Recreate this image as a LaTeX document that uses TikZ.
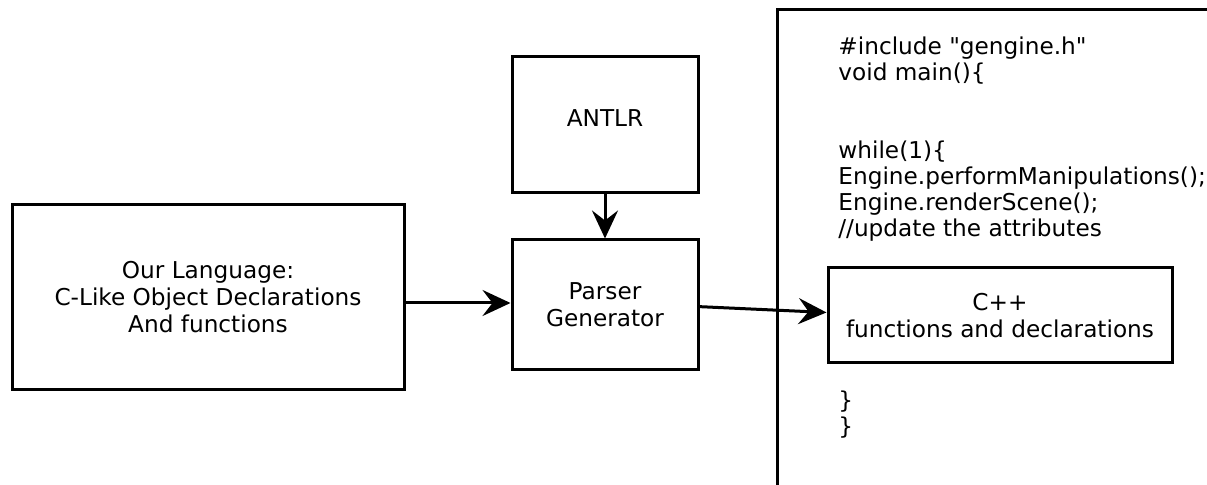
\documentclass[tikz,border=0pt]{standalone}
\usepackage{fontspec}
\setmainfont{DejaVu Sans}[Ligatures=TeXOff]
\usetikzlibrary{arrows.meta}

\begin{document}
\begin{tikzpicture}[x=0.5pt,y=-0.5pt,
    box/.style={draw,line width=1.5pt,align=center,inner sep=0pt,
      font=\fontsize{11.6pt}{13.5pt}\selectfont},
    code/.style={align=left,inner sep=0pt,anchor=north west,
      font=\fontsize{11.6pt}{13pt}\selectfont},
    arr/.style={line width=1.5pt,-{Stealth[length=14pt,width=13pt,inset=5pt]}}]
      \useasboundingbox (0,0) rectangle (1207,485);

      % the generated program, cut off by the page edge
      \begin{scope}
        \clip (0,0) rectangle (1207,485);
        \draw[line width=1.5pt] (777,10) rectangle (1240,520);
      \end{scope}

      \node[box,minimum width=196pt,minimum height=92.5pt] (lang) at (208,297.5)
        {Our Language:\\C-Like Object Declarations\\And functions};
      \node[box,minimum width=93pt,minimum height=68pt,text depth=7pt] (antlr) at (605,125) {ANTLR};
      \node[box,minimum width=93pt,minimum height=65pt] (parser) at (605,305)
        {Parser\\Generator};
      \node[box,minimum width=172pt,minimum height=47.5pt] (cpp) at (1000,315.5)
        {C++\\functions and declarations};

      \node[code] (head) at (838,36)
        {\#include "gengine.h"\\void main()\{\\[26pt]while(1)\{\\Engine.performManipulations();\\Engine.renderScene();\\//update the attributes};
      \node[code] (tail) at (838,390) {\}\\\}};

      \draw[arr] (lang.east |- 0,303) -- (parser.west |- 0,303);
      \draw[arr] (antlr) -- (parser);
      \draw[arr] (parser.-1) -- (cpp.179);
    \end{tikzpicture}
\end{document}
